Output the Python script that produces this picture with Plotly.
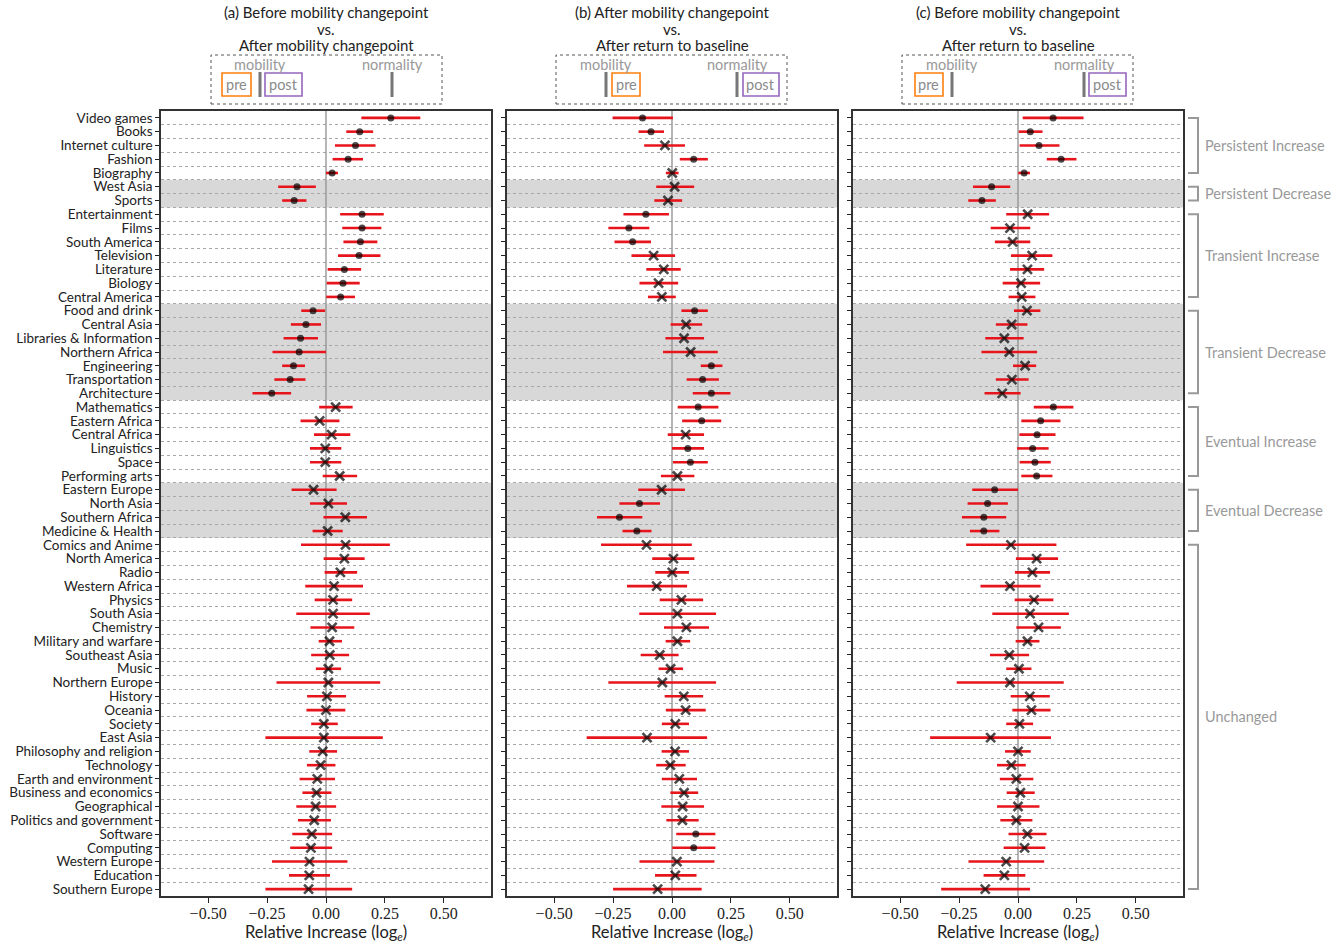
import plotly.graph_objects as go

categories = ["Video games", "Books", "Internet culture", "Fashion", "Biography", "West Asia", "Sports",
              "Entertainment", "Films", "South America", "Television", "Literature", "Biology", "Central America",
              "Food and drink", "Central Asia", "Libraries & Information", "Northern Africa", "Engineering",
              "Transportation", "Architecture", "Mathematics", "Eastern Africa", "Central Africa", "Linguistics",
              "Space", "Performing arts", "Eastern Europe", "North Asia", "Southern Africa", "Medicine & Health",
              "Comics and Anime", "North America", "Radio", "Western Africa", "Physics", "South Asia", "Chemistry",
              "Military and warfare", "Southeast Asia", "Music", "Northern Europe", "History", "Oceania", "Society",
              "East Asia", "Philosophy and religion", "Technology", "Earth and environment", "Business and economics",
              "Geographical", "Politics and government", "Software", "Computing", "Western Europe", "Education",
              "Southern Europe"]

# Panel (a)
a_val = [0.275, 0.143, 0.125, 0.094, 0.026, -0.123, -0.135, 0.153, 0.153, 0.146, 0.140, 0.078, 0.072, 0.062,
         -0.055, -0.085, -0.108, -0.114, -0.138, -0.152, -0.230, 0.041, -0.027, 0.024, -0.003, -0.003, 0.058,
         -0.053, 0.010, 0.082, 0.007, 0.083, 0.078, 0.061, 0.034, 0.030, 0.030, 0.026, 0.015, 0.016, 0.010,
         0.010, 0.004, 0.000, -0.009, -0.009, -0.014, -0.023, -0.037, -0.040, -0.044, -0.050, -0.060, -0.064,
         -0.070, -0.071, -0.074]
a_lo = [0.150, 0.086, 0.038, 0.028, 0.000, -0.203, -0.186, 0.060, 0.069, 0.074, 0.051, 0.007, 0.003, 0.001,
        -0.105, -0.149, -0.180, -0.227, -0.186, -0.219, -0.312, -0.029, -0.108, -0.051, -0.068, -0.068, -0.014,
        -0.146, -0.068, -0.011, -0.057, -0.106, -0.010, -0.006, -0.088, -0.048, -0.126, -0.066, -0.031, -0.063,
        -0.043, -0.210, -0.080, -0.083, -0.063, -0.257, -0.071, -0.081, -0.112, -0.100, -0.126, -0.119, -0.143,
        -0.152, -0.229, -0.157, -0.257]
a_hi = [0.400, 0.200, 0.210, 0.157, 0.051, -0.043, -0.083, 0.245, 0.235, 0.218, 0.231, 0.149, 0.143, 0.123,
        -0.004, -0.021, -0.034, 0.000, -0.089, -0.087, -0.148, 0.113, 0.057, 0.103, 0.065, 0.065, 0.132,
        0.045, 0.089, 0.174, 0.071, 0.271, 0.164, 0.132, 0.157, 0.111, 0.186, 0.120, 0.068, 0.098, 0.064,
        0.230, 0.085, 0.082, 0.050, 0.241, 0.047, 0.040, 0.038, 0.023, 0.043, 0.021, 0.026, 0.026, 0.091,
        0.017, 0.111]
a_sig = [1] * 21 + [0] * 36

# Panel (b)
b_val = [-0.125, -0.089, -0.030, 0.092, 0.001, 0.011, -0.017, -0.111, -0.183, -0.167, -0.078, -0.035, -0.057,
         -0.043, 0.096, 0.060, 0.051, 0.079, 0.167, 0.130, 0.167, 0.111, 0.126, 0.058, 0.067, 0.078, 0.023,
         -0.044, -0.138, -0.223, -0.149, -0.108, 0.006, 0.001, -0.065, 0.040, 0.023, 0.061, 0.023, -0.052,
         -0.006, -0.041, 0.050, 0.058, 0.014, -0.106, 0.013, -0.007, 0.031, 0.051, 0.045, 0.044, 0.101, 0.092,
         0.021, 0.014, -0.061]
b_lo = [-0.252, -0.142, -0.118, 0.033, -0.026, -0.067, -0.075, -0.206, -0.270, -0.244, -0.172, -0.109, -0.138,
        -0.102, 0.040, -0.006, -0.028, -0.038, 0.122, 0.062, 0.088, 0.024, 0.043, -0.018, 0.000, 0.004, -0.047,
        -0.143, -0.223, -0.318, -0.210, -0.301, -0.084, -0.071, -0.191, -0.052, -0.139, -0.034, -0.027, -0.133,
        -0.057, -0.270, -0.031, -0.026, -0.043, -0.362, -0.044, -0.067, -0.043, -0.007, -0.045, -0.024, 0.018,
        0.001, -0.138, -0.072, -0.250]
b_hi = [0.004, -0.034, 0.055, 0.152, 0.028, 0.094, 0.043, -0.013, -0.096, -0.089, 0.013, 0.037, 0.026, 0.016,
        0.152, 0.128, 0.136, 0.194, 0.214, 0.199, 0.248, 0.197, 0.209, 0.136, 0.136, 0.152, 0.095, 0.055,
        -0.051, -0.126, -0.087, 0.084, 0.095, 0.072, 0.064, 0.132, 0.187, 0.157, 0.077, 0.028, 0.047, 0.187,
        0.132, 0.143, 0.072, 0.149, 0.072, 0.058, 0.106, 0.111, 0.136, 0.113, 0.184, 0.184, 0.180, 0.104, 0.126]
b_sig = [1, 1, 0, 1, 0, 0, 0, 1, 1, 1, 0, 0, 0, 0, 1, 0, 0, 0, 1, 1, 1, 1, 1, 0, 1, 1, 0, 0, 1, 1, 1,
         0, 0, 0, 0, 0, 0, 0, 0, 0, 0, 0, 0, 0, 0, 0, 0, 0, 0, 0, 0, 0, 1, 1, 0, 0, 0]

# Panel (c)
c_val = [0.149, 0.052, 0.089, 0.183, 0.026, -0.112, -0.153, 0.041, -0.034, -0.023, 0.060, 0.040, 0.013, 0.016,
         0.038, -0.027, -0.058, -0.037, 0.030, -0.026, -0.067, 0.150, 0.096, 0.081, 0.062, 0.072, 0.079, -0.099,
         -0.129, -0.145, -0.145, -0.030, 0.079, 0.061, -0.034, 0.068, 0.051, 0.087, 0.040, -0.037, 0.004,
         -0.034, 0.050, 0.057, 0.006, -0.116, 0.000, -0.028, -0.007, 0.010, 0.000, -0.007, 0.040, 0.028,
         -0.050, -0.058, -0.139]
c_lo = [0.020, 0.003, 0.007, 0.122, 0.001, -0.191, -0.211, -0.050, -0.116, -0.098, -0.030, -0.034, -0.065,
        -0.040, -0.017, -0.094, -0.139, -0.155, -0.021, -0.094, -0.142, 0.067, 0.014, 0.006, -0.004, 0.007,
        0.014, -0.194, -0.214, -0.238, -0.204, -0.220, -0.009, -0.013, -0.159, -0.014, -0.109, -0.007, -0.010,
        -0.119, -0.050, -0.260, -0.031, -0.024, -0.050, -0.373, -0.055, -0.089, -0.077, -0.048, -0.089, -0.075,
        -0.040, -0.061, -0.210, -0.146, -0.326]
c_hi = [0.278, 0.104, 0.176, 0.248, 0.051, -0.033, -0.094, 0.132, 0.052, 0.052, 0.146, 0.111, 0.094, 0.074,
        0.095, 0.040, 0.024, 0.081, 0.077, 0.045, 0.011, 0.235, 0.180, 0.159, 0.130, 0.139, 0.146, 0.000,
        -0.043, -0.050, -0.079, 0.163, 0.170, 0.136, 0.096, 0.150, 0.216, 0.182, 0.091, 0.047, 0.057, 0.194,
        0.135, 0.138, 0.064, 0.140, 0.054, 0.033, 0.065, 0.071, 0.091, 0.061, 0.121, 0.116, 0.111, 0.031, 0.051]
c_sig = [1] * 7 + [0] * 14 + [1] * 10 + [0] * 26

panel_titles = [["(a) Before mobility changepoint", "vs.", "After mobility changepoint"],
                ["(b) After mobility changepoint", "vs.", "After return to baseline"],
                ["(c) Before mobility changepoint", "vs.", "After return to baseline"]]
x_title = "Relative Increase (log<sub><i>e</i></sub>)"

groups = [("Persistent Increase", 0, 4), ("Persistent Decrease", 5, 6), ("Transient Increase", 7, 13),
          ("Transient Decrease", 14, 20), ("Eventual Increase", 21, 26), ("Eventual Decrease", 27, 30),
          ("Unchanged", 31, 56)]
shaded = [(5, 6), (14, 20), (27, 30)]

W, H = 1341, 945
def px(x):
    return x / W
def py(y):
    return 1 - y / H

RED = "#e8141c"
n = len(categories)
ypos = list(range(n))

fig = go.Figure()
panels = [(a_val, a_lo, a_hi, a_sig), (b_val, b_lo, b_hi, b_sig), (c_val, c_lo, c_hi, c_sig)]
for k, (v, lo, hi, sig) in enumerate(panels):
    sfx = "" if k == 0 else str(k + 1)
    fig.add_trace(go.Scatter(
        x=v, y=ypos, mode="markers",
        xaxis="x" + sfx, yaxis="y" + sfx,
        marker=dict(symbol=["circle" if s else "x-thin" for s in sig],
                    size=[7 if s else 9 for s in sig],
                    color="black",
                    line=dict(color="black", width=[0 if s else 2.6 for s in sig])),
        error_x=dict(type="data", symmetric=False,
                     array=[h - m for h, m in zip(hi, v)],
                     arrayminus=[m - l for m, l in zip(v, lo)],
                     color=RED, thickness=2.6, width=0),
        showlegend=False, hoverinfo="skip"))

xdomains = [(161, 491), (507, 837), (853, 1183)]
layout = dict(width=W, height=H, margin=dict(l=0, r=0, t=0, b=0, autoexpand=False),
              paper_bgcolor="white", plot_bgcolor="white",
              font=dict(family="Lato", color="#222"), showlegend=False)

shapes = []
annotations = []
for k, (x0, x1) in enumerate(xdomains):
    sfx = "" if k == 0 else str(k + 1)
    layout["xaxis" + sfx] = dict(
        domain=[px(x0), px(x1)], anchor="y" + sfx, range=[-0.7, 0.7],
        tickvals=[-0.5, -0.25, 0, 0.25, 0.5],
        ticktext=["\u22120.50", "\u22120.25", "0.00", "0.25", "0.50"],
        tickfont=dict(family="Liberation Serif", size=16, color="#222"),
        ticks="outside", ticklen=5, tickcolor="#222", showgrid=False, automargin=False,
        ticklabelstandoff=-3,
        zeroline=True, zerolinecolor="rgba(150,150,150,0.7)", zerolinewidth=2,
        showline=True, mirror=True, linecolor="#333", linewidth=1.5)
    layout["yaxis" + sfx] = dict(
        domain=[py(896), py(111)], anchor="x" + sfx, range=[n - 0.5, -0.5],
        tickvals=ypos, ticktext=categories, showticklabels=(k == 0), automargin=False,
        tickfont=dict(family="Lato", size=13.5, color="#222"),
        ticks="outside", ticklen=4, tickcolor="#222", showgrid=False, zeroline=False,
        showline=True, mirror=True, linecolor="#333", linewidth=1.5,
        minor=dict(tickvals=[i + 0.5 for i in range(n - 1)], showgrid=True,
                   gridcolor="#a8a8a8", gridwidth=1, griddash="dot", ticks=""))
    for (r0, r1) in shaded:
        shapes.append(dict(type="rect", xref="x" + sfx + " domain", yref="y" + sfx,
                           x0=0, x1=1, y0=r0 - 0.5, y1=r1 + 0.5, layer="below",
                           fillcolor="#d8d8d8", line=dict(width=0)))
    cx = (x0 + x1) / 2
    for txt, yy in zip(panel_titles[k], [12, 29, 45]):
        annotations.append(dict(text=txt, x=px(cx), y=py(yy), xref="paper", yref="paper",
                                showarrow=False, xanchor="center", yanchor="middle",
                                font=dict(family="Lato", size=15, color="#222")))
    annotations.append(dict(text=x_title, x=px(cx), y=py(932), xref="paper", yref="paper",
                            showarrow=False, xanchor="center", yanchor="middle",
                            font=dict(family="Lato", size=16.5, color="#222")))

# legend-like diagrams above each panel
ORANGE = "#ff7f0e"
PURPLE = "#9467bd"
diagrams = [
    dict(box=(211, 442), pre=(222, 251), post=(265, 302), mob=260, norm=392),
    dict(box=(556, 787), pre=(612, 640), post=(743, 779), mob=606, norm=737),
    dict(box=(902, 1133), pre=(915, 943), post=(1089, 1126), mob=952, norm=1084),
]
for d in diagrams:
    shapes.append(dict(type="rect", xref="paper", yref="paper", x0=px(d["box"][0]), x1=px(d["box"][1]),
                       y0=py(104), y1=py(55), line=dict(color="#555", width=1, dash="dot")))
    for key, col, lab in [("pre", ORANGE, "pre"), ("post", PURPLE, "post")]:
        bx0, bx1 = d[key]
        shapes.append(dict(type="rect", xref="paper", yref="paper", x0=px(bx0), x1=px(bx1),
                           y0=py(96), y1=py(73), line=dict(color=col, width=1.6)))
        annotations.append(dict(text=lab, x=px((bx0 + bx1) / 2), y=py(84.5), xref="paper", yref="paper",
                                showarrow=False, xanchor="center", yanchor="middle",
                                font=dict(family="Lato", size=14.5, color="#8a8a8a")))
    for key, lab in [("mob", "mobility"), ("norm", "normality")]:
        xx = d[key]
        shapes.append(dict(type="line", xref="paper", yref="paper", x0=px(xx), x1=px(xx),
                           y0=py(97), y1=py(72), line=dict(color="#777", width=3)))
        annotations.append(dict(text=lab, x=px(xx), y=py(64), xref="paper", yref="paper",
                                showarrow=False, xanchor="center", yanchor="middle",
                                font=dict(family="Lato", size=14.5, color="#999")))

# group brackets on the right
for name, r0, r1 in groups:
    xa, xb = px(1188), px(1198)
    shapes.append(dict(type="path", xref="paper", yref="y3",
                       path=f"M {xa},{r0} L {xb},{r0} L {xb},{r1} L {xa},{r1}",
                       line=dict(color="#999", width=2)))
    annotations.append(dict(text=name, x=px(1203), y=(r0 + r1) / 2, xref="paper", yref="y3",
                            showarrow=False, xanchor="left", yanchor="middle",
                            font=dict(family="Lato", size=14.5, color="#999")))

layout["shapes"] = shapes
layout["annotations"] = annotations
fig.update_layout(**layout)
fig.write_html("out.html", config={"displayModeBar": False},
               post_script="document.body.style.margin='0px';")
